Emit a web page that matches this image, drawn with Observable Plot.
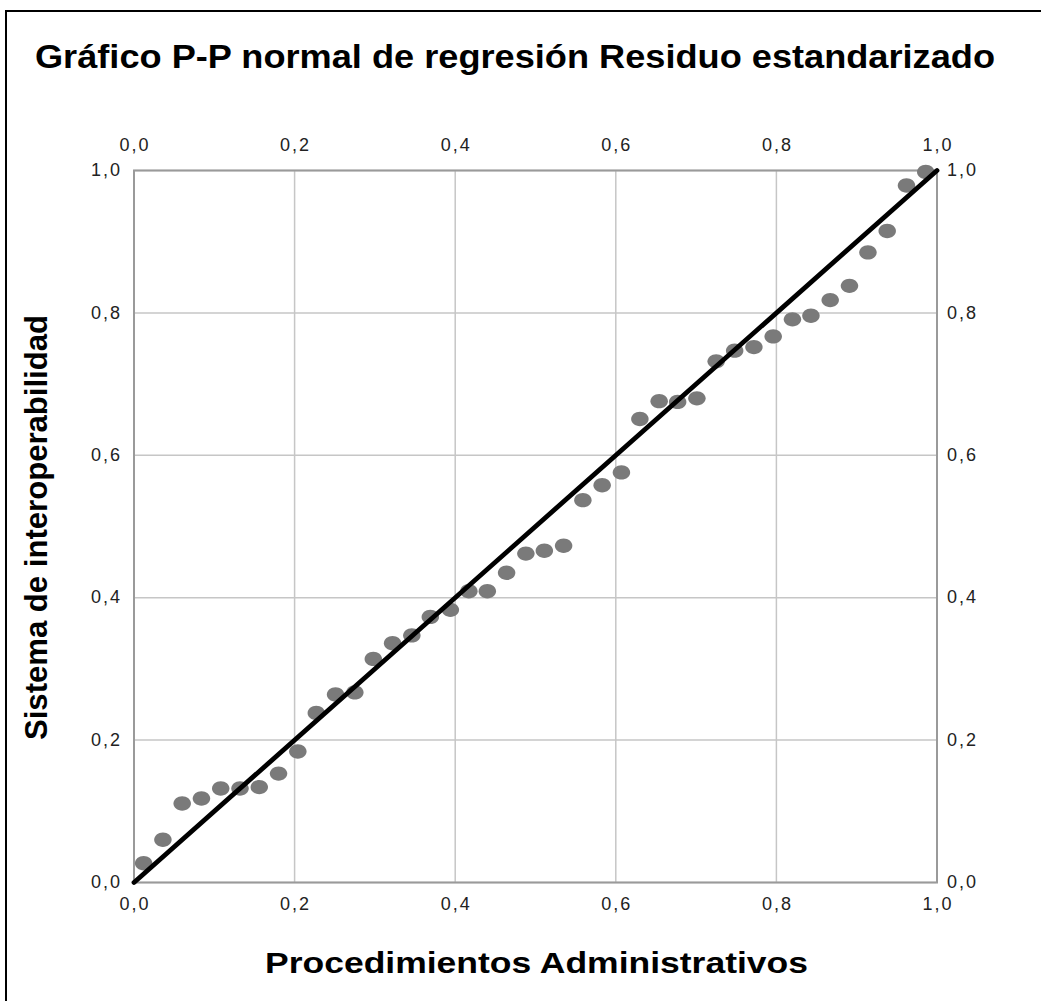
<!DOCTYPE html>
<html>
<head>
<meta charset="utf-8">
<script src="https://cdn.jsdelivr.net/npm/d3@7"></script>
<script src="https://cdn.jsdelivr.net/npm/@observablehq/plot@0.6"></script>
<style>
  html, body { margin: 0; padding: 0; background: #fff; }
  #page { position: relative; width: 1041px; height: 1001px; overflow: hidden; background: #fff; }
  #border { position: absolute; left: 5px; top: 10px; width: 2000px; height: 2000px; z-index: 5;
            border-left: 2px solid #000; border-top: 2px solid #000; pointer-events: none; }
  .lbl { position: absolute; white-space: nowrap; line-height: 1; color: #000;
         font-family: "Liberation Sans", Arial, sans-serif; font-weight: bold;
         transform-origin: center center; }
  #chart { position: absolute; left: 0; top: 100px; }
  #chart svg text { letter-spacing: 2px; }
</style>
</head>
<body>
<div id="page">
  <div id="chart"></div>
  <div id="border"></div>
</div>
<script>
// ---- data ----
const observedProb = [0.012, 0.036, 0.060, 0.084, 0.108, 0.132, 0.156, 0.180, 0.204, 0.227,
  0.251, 0.275, 0.298, 0.322, 0.346, 0.369, 0.394, 0.417, 0.440, 0.464,
  0.488, 0.511, 0.535, 0.559, 0.583, 0.607, 0.630, 0.654, 0.677, 0.701,
  0.725, 0.748, 0.772, 0.796, 0.820, 0.843, 0.867, 0.891, 0.914, 0.938,
  0.962, 0.986];
const expectedProb = [0.027, 0.060, 0.111, 0.118, 0.132, 0.132, 0.134, 0.153, 0.184, 0.238,
  0.264, 0.267, 0.314, 0.336, 0.347, 0.373, 0.383, 0.409, 0.409, 0.435,
  0.462, 0.466, 0.473, 0.537, 0.558, 0.576, 0.651, 0.676, 0.675, 0.680,
  0.732, 0.747, 0.752, 0.767, 0.791, 0.796, 0.818, 0.838, 0.885, 0.915,
  0.979, 0.998];
const tickValues = [0, 0.2, 0.4, 0.6, 0.8, 1.0];
const referenceLine = [0, 1];
const titleText = "Gráfico P-P normal de regresión Residuo estandarizado";
const xLabelText = "Procedimientos Administrativos";
const yLabelText = "Sistema de interoperabilidad";

const points = observedProb.map((x, i) => ({x, y: expectedProb[i]}));
const fmt = d => d.toFixed(1).replace(".", ",");

// slightly wide ellipse symbol (the reference dots are horizontally stretched)
const ellipse = {
  draw(ctx, size) {
    const r = Math.sqrt(size / Math.PI);
    const rx = r * 1.12, ry = r * 0.92, k = 0.5523;
    ctx.moveTo(rx, 0);
    ctx.bezierCurveTo(rx, ry * k, rx * k, ry, 0, ry);
    ctx.bezierCurveTo(-rx * k, ry, -rx, ry * k, -rx, 0);
    ctx.bezierCurveTo(-rx, -ry * k, -rx * k, -ry, 0, -ry);
    ctx.bezierCurveTo(rx * k, -ry, rx, -ry * k, rx, 0);
    ctx.closePath();
  }
};

const tickFont = {fontSize: 18, fill: "#222", tickSize: 0, tickFormat: fmt, label: null};

const chart = Plot.plot({
  width: 1041,
  height: 901,
  marginTop: 70,
  marginBottom: 119,
  marginLeft: 133.5,
  marginRight: 104.5,
  style: {fontFamily: "'Liberation Sans', Arial, sans-serif", fontSize: "18px", background: "white"},
  x: {domain: [0, 1]},
  y: {domain: [0, 1]},
  marks: [
    Plot.gridX(tickValues, {stroke: "#c6c6c6", strokeOpacity: 1, strokeWidth: 1.5}),
    Plot.gridY(tickValues, {stroke: "#c6c6c6", strokeOpacity: 1, strokeWidth: 1.5}),
    Plot.frame({stroke: "#9a9a9a", strokeWidth: 2}),
    Plot.dot(points, {x: "x", y: "y", r: 7.8, symbol: ellipse, fill: "#7a7a7a", stroke: "none"}),
    Plot.line(referenceLine, {x: d => d, y: d => d, stroke: "#000", strokeWidth: 4.8}),
    Plot.axisX(tickValues, {anchor: "bottom", tickPadding: 15, dx: 1, ...tickFont}),
    Plot.axisX(tickValues, {anchor: "top", tickPadding: 20, dx: 1, ...tickFont}),
    Plot.axisY(tickValues, {anchor: "left", tickPadding: 12, ...tickFont}),
    Plot.axisY(tickValues, {anchor: "right", tickPadding: 10, ...tickFont})
  ]
});
document.getElementById("chart").appendChild(chart);

// ---- titles (HTML text), fitted to the reference's widths ----
const page = document.getElementById("page");
function addLabel(text, fs, cx, baseline, targetW, rotate) {
  const el = document.createElement("div");
  el.className = "lbl";
  el.textContent = text;
  el.style.fontSize = fs + "px";
  el.style.left = "0px"; el.style.top = "0px";
  page.appendChild(el);
  const w = el.getBoundingClientRect().width;
  const h = el.getBoundingClientRect().height;
  const k = targetW / w;
  if (!rotate) {
    el.style.left = (cx - w / 2) + "px";
    el.style.top = (baseline - 0.8465 * fs) + "px";
    el.style.transform = `scaleX(${k})`;
  } else {
    // cx = baseline x position, baseline arg = vertical center
    const centerX = cx - (0.8465 * fs - h / 2);
    el.style.left = (centerX - w / 2) + "px";
    el.style.top = (baseline - h / 2) + "px";
    el.style.transform = `rotate(-90deg) scaleX(${k})`;
  }
}
addLabel(titleText, 33, 515, 68, 960, false);
addLabel(xLabelText, 30, 536, 973, 543, false);
addLabel(yLabelText, 31, 47.5, 527, 425, true);
</script>
</body>
</html>
